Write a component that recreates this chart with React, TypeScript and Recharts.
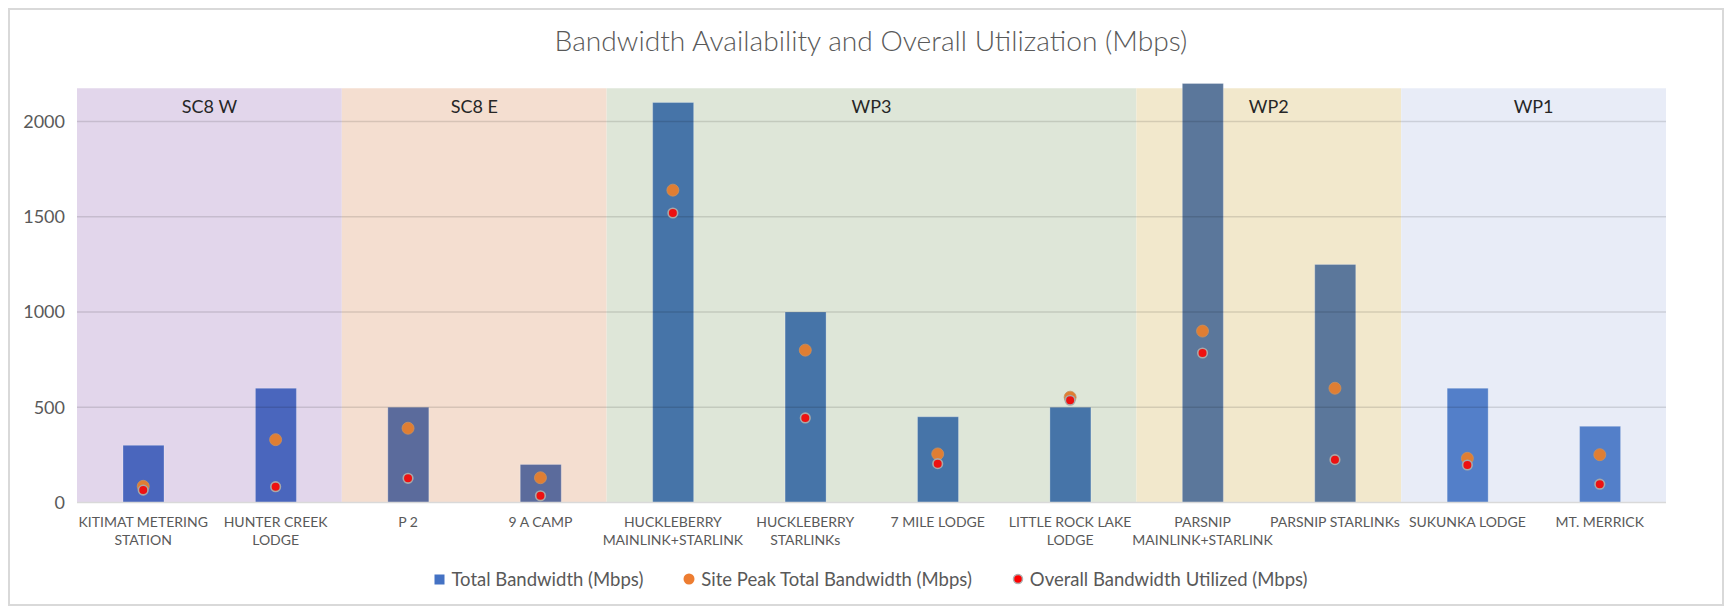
import React from 'react';
import {ComposedChart, Bar, Scatter, Cell, XAxis, YAxis, ReferenceArea, ReferenceLine, Legend} from 'recharts';

// sites along the x axis, and how each label wraps
const categories: string[] = [
    'KITIMAT METERING STATION',
    'HUNTER CREEK LODGE',
    'P 2',
    '9 A CAMP',
    'HUCKLEBERRY MAINLINK+STARLINK',
    'HUCKLEBERRY STARLINKs',
    '7 MILE LODGE',
    'LITTLE ROCK LAKE LODGE',
    'PARSNIP MAINLINK+STARLINK',
    'PARSNIP STARLINKs',
    'SUKUNKA LODGE',
    'MT. MERRICK'
]

const tickLines: string[][] = [
    ['KITIMAT METERING', 'STATION'],
    ['HUNTER CREEK', 'LODGE'],
    ['P 2'],
    ['9 A CAMP'],
    ['HUCKLEBERRY', 'MAINLINK+STARLINK'],
    ['HUCKLEBERRY', 'STARLINKs'],
    ['7 MILE LODGE'],
    ['LITTLE ROCK LAKE', 'LODGE'],
    ['PARSNIP', 'MAINLINK+STARLINK'],
    ['PARSNIP STARLINKs'],
    ['SUKUNKA LODGE'],
    ['MT. MERRICK']
]

const totalBandwidth: number[] = [300, 600, 500, 200, 2100, 1000, 450, 500, 2200, 1250, 600, 400]
const sitePeak: number[] = [85, 330, 390, 130, 1640, 800, 255, 553, 900, 600, 232, 251]
const overallUtilized: number[] = [65, 83, 127, 35, 1520, 444, 204, 537, 785, 225, 197, 96]

// regions: label, first site, last site
const regions: {name: string, from: number, to: number}[] = [
    {name: 'SC8 W', from: 0, to: 1},
    {name: 'SC8 E', from: 2, to: 3},
    {name: 'WP3', from: 4, to: 7},
    {name: 'WP2', from: 8, to: 9},
    {name: 'WP1', from: 10, to: 11}
]

const yTicks: number[] = [0, 500, 1000, 1500, 2000]

const regionFill = ['#e2d6eb', '#f4ded0', '#dee6d8', '#f2e8cc', '#e8ecf7']
const barFill = ['#4a66bd', '#5b6b9c', '#4674a8', '#5b779b', '#537fc9']

const data = categories.map((name, i) => ({
    name,
    total: totalBandwidth[i],
    peak: sitePeak[i],
    used: overallUtilized[i]
}))

const regionOf = (i: number) => regions.findIndex(r => i >= r.from && i <= r.to)

const FONT = 'Lato, "Noto Sans", sans-serif'

function CategoryTick(props: any) {
    const {x, y, payload} = props
    const lines = tickLines[categories.indexOf(payload.value)] || [payload.value]
    return (
        <text x={x} y={y} textAnchor="middle" fill="#595959" fontSize={14} fontFamily={FONT}>
            {lines.map((l, i) => (
                <tspan key={i} x={x} dy={i === 0 ? 16 : 18}>{l}</tspan>
            ))}
        </text>
    )
}

const PeakDot = (props: any) => (
    <circle cx={props.cx} cy={props.cy} r={6} fill="#e07e33" stroke="#c9905e" strokeWidth={0.8} />
)

const UsedDot = (props: any) => (
    <circle cx={props.cx} cy={props.cy} r={4.8} fill="#ee1111" stroke="#a8a8a8" strokeWidth={1.6} />
)

function LegendBox() {
    const item = {display: 'flex', alignItems: 'center', gap: 6}
    return (
        <div style={{height: 30, display: 'flex', justifyContent: 'center', alignItems: 'center',
            gap: 40, paddingLeft: 10, paddingBottom: 4, boxSizing: 'border-box' as const,
            fontFamily: FONT, fontSize: 18.5, color: '#595959'}}>
            <div style={item}>
                <svg width={11} height={11}><rect x={0.5} y={0.5} width={10} height={10} fill="#4472c4" /></svg>
                <span>Total Bandwidth (Mbps)</span>
            </div>
            <div style={item}>
                <svg width={12} height={12}><circle cx={6} cy={6} r={5.5} fill="#ed7d31" /></svg>
                <span>Site Peak Total Bandwidth (Mbps)</span>
            </div>
            <div style={item}>
                <svg width={12} height={12}><circle cx={6} cy={6} r={4.5} fill="#ff0000" stroke="#b0b0b0" strokeWidth={1.5} /></svg>
                <span>Overall Bandwidth Utilized (Mbps)</span>
            </div>
        </div>
    )
}

export default function App() {
    return (
        <div style={{position: 'relative', width: 1716, height: 598, border: '2px solid #d9d9d9',
            boxSizing: 'border-box', background: '#fff'}}>
            <div style={{position: 'absolute', top: 13, left: 10, right: 0, textAlign: 'center',
                fontFamily: FONT, fontSize: 28.2, fontWeight: 300, color: '#595959'}}>
                Bandwidth Availability and Overall Utilization (Mbps)
            </div>
            <ComposedChart width={1712} height={594} data={data}
                margin={{top: 73.5, right: 0, bottom: 8, left: 0}}>
                {regions.map((r, i) => (
                    <ReferenceArea key={r.name} yAxisId="left" x1={categories[r.from]} x2={categories[r.to]}
                        y1={0} y2={2175} fill={regionFill[i]} fillOpacity={1} stroke="none"
                        label={{value: r.name, position: 'insideTop', offset: 12, fontSize: 18,
                            fill: '#262626', fontFamily: FONT}} />
                ))}
                {yTicks.slice(1).map(t => (
                    <ReferenceLine key={t} yAxisId="left" y={t} stroke="#000" strokeOpacity={0.12} strokeWidth={1.5} />
                ))}
                <XAxis dataKey="name" tick={<CategoryTick />} tickLine={false} interval={0}
                    axisLine={{stroke: '#d9d9d9', strokeWidth: 1.5}} height={63.5} />
                <YAxis yAxisId="left" domain={[0, 2200]} ticks={yTicks} width={67} tickLine={false}
                    axisLine={false} tick={{fill: '#595959', fontSize: 18, fontFamily: FONT}} tickMargin={6} />
                <YAxis yAxisId="right" orientation="right" domain={[0, 2200]} ticks={yTicks} width={56}
                    tickLine={false} axisLine={false} tick={{fill: '#595959', fontSize: 18, fontFamily: FONT}}
                    tickMargin={6} />
                <Bar yAxisId="left" dataKey="total" name="Total Bandwidth (Mbps)" barSize={41}
                    isAnimationActive={false} stroke="#ffffff" strokeOpacity={0.25}>
                    {data.map((d, i) => <Cell key={d.name} fill={barFill[regionOf(i)]} />)}
                </Bar>
                <Scatter yAxisId="left" dataKey="peak" name="Site Peak Total Bandwidth (Mbps)"
                    shape={<PeakDot />} isAnimationActive={false} />
                <Scatter yAxisId="left" dataKey="used" name="Overall Bandwidth Utilized (Mbps)"
                    shape={<UsedDot />} isAnimationActive={false} />
                <Legend verticalAlign="bottom" height={30} content={<LegendBox />} />
            </ComposedChart>
        </div>
    );
}
